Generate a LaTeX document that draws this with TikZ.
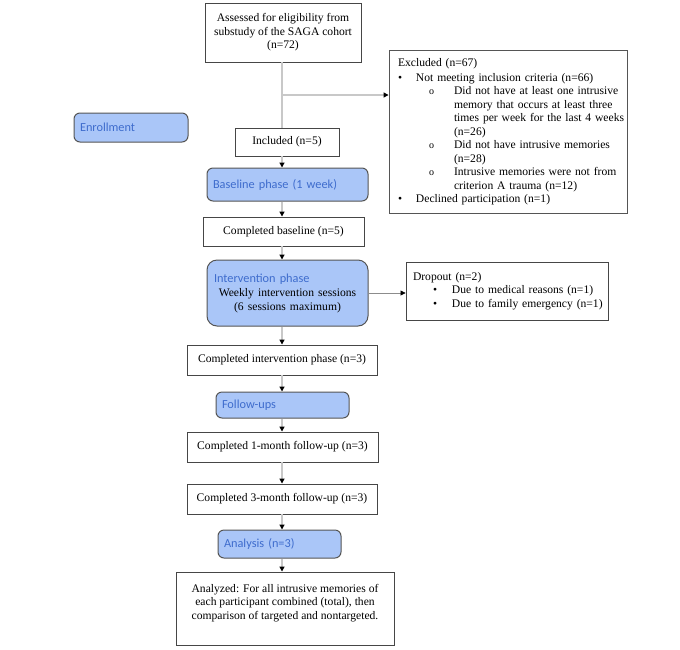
\documentclass[tikz,border=0pt]{standalone}
\usepackage{fontspec}
\setmainfont{Liberation Serif}
\newfontfamily\calibrifont{Carlito}
\usepackage{color}
\usepackage{tikz}
\usetikzlibrary{arrows.meta,backgrounds}

\definecolor{phasefill}{RGB}{170,198,248}
\definecolor{phaseline}{RGB}{85,85,85}
\definecolor{phasetext}{RGB}{62,108,205}
\definecolor{boxline}{RGB}{70,70,70}
\definecolor{flowline}{RGB}{200,200,200}
\definecolor{dropline}{RGB}{140,140,140}

\newcommand{\bodyfont}{\fontsize{11.6}{13.5}\selectfont}
\newcommand{\phasefont}{\calibrifont\fontsize{12.3}{14}\selectfont}
% bullet lines of the Excluded box
\newcommand{\bulA}[1]{\mbox{\makebox[18pt][l]{\textbullet}#1}}
\newcommand{\bulB}[1]{\mbox{\hspace*{31pt}\makebox[25pt][l]{\fontsize{10}{10}\selectfont o}#1}}
\newcommand{\bulC}[1]{\mbox{\hspace*{56pt}#1}}

\begin{document}
\begin{tikzpicture}[x=1pt,y=1pt,yscale=-1,
  box/.style={draw=boxline, line width=0.9pt, inner sep=0pt, align=center, font=\bodyfont},
  phasebox/.style={draw=phaseline, fill=phasefill, line width=1pt, rounded corners=6pt,
    inner xsep=6pt, inner ysep=0pt, align=left, text=phasetext, font=\phasefont},
  plainline/.style={draw=flowline, line width=1.5pt},
  flow/.style={plainline, -{Triangle[length=5pt,width=5pt,color=black]}},
  dropflow/.style={draw=dropline, line width=0.7pt, -{Triangle[length=5pt,width=5pt,color=black]}}]
\useasboundingbox[fill=white] (0,0) rectangle (680,649);

%Box: Assessed
\node (assessed) [box, minimum width=156pt, minimum height=59pt] at (283,32.5)
  {Assessed for eligibility from\\substudy of the SAGA cohort\\(n=72)};

%Box: Excluded
\node (excluded) [box, draw=phaseline, minimum height=163pt, text width=220pt, inner xsep=9pt, align=left] at (508,131.5)
  {Excluded (n=67)\\[1.5pt]
   \bulA{Not meeting inclusion criteria (n=66)}\\
   \bulB{Did not have at least one intrusive}\\
   \bulC{memory that occurs at least three}\\
   \bulC{times per week for the last 4 weeks}\\
   \bulC{(n=26)}\\
   \bulB{Did not have intrusive memories}\\
   \bulC{(n=28)}\\
   \bulB{Intrusive memories were not from}\\
   \bulC{criterion A trauma (n=12)}\\
   \bulA{Declined participation (n=1)}};

%Shape: phase labels
\node (enrollment) [phasebox, text width=102pt, minimum height=29pt] at (131,127.5) {Enrollment};

% Text Node
\node (included) [box, minimum width=104pt, minimum height=28pt] at (287,142) {Included (n=5)};

\node (baseline) [phasebox, text width=149pt, minimum height=33pt] at (287.5,184.5) {Baseline phase (1 week)};

\node (compbase) [box, minimum width=161pt, minimum height=29pt] at (283.5,231.5) {Completed baseline (n=5)};

\node (intervention) [phasebox, rounded corners=10pt, text width=147pt, inner xsep=7pt, minimum height=66pt] at (287.5,293)
  {Intervention phase\\
   \makebox[147pt][c]{\rmfamily\bodyfont\textcolor{black}{Weekly intervention sessions}}\\
   \makebox[147pt][c]{\rmfamily\bodyfont\textcolor{black}{(6 sessions maximum)}}};

%Box: Dropout
\node (dropout) [box, text width=188pt, inner xsep=7pt, minimum height=58pt, align=left] at (507,291)
  {Dropout (n=2)\\
   \mbox{\hspace*{20pt}\makebox[19pt][l]{\textbullet}Due to medical reasons (n=1)}\\
   \mbox{\hspace*{20pt}\makebox[19pt][l]{\textbullet}Due to family emergency (n=1)}};

\node (compint) [box, minimum width=190pt, minimum height=30pt] at (282,360) {Completed intervention phase (n=3)};

\node (followups) [phasebox, text width=121pt, minimum height=26pt] at (282.5,405) {Follow-ups};

\node (comp1) [box, minimum width=191pt, minimum height=30pt] at (282.5,447) {Completed 1-month follow-up (n=3)};

\node (comp3) [box, minimum width=190pt, minimum height=30pt] at (282,499) {Completed 3-month follow-up (n=3)};

\node (analysis) [phasebox, text width=111pt, minimum height=28pt] at (279.5,544) {Analysis (n=3)};

\node (analyzed) [box, minimum width=218pt, minimum height=73pt] at (285,608.5)
  {Analyzed: For all intrusive memories of\\each participant combined (total), then\\comparison of targeted and nontargeted.\\ \mbox{}};

% connectors
\coordinate (spine) at (282,0);
\coordinate (branch) at (282,95);
\draw[plainline] (assessed.south -| spine) -- (included.north -| spine);
\draw[flow] (branch) -- (branch -| excluded.west);
\draw[flow] (included.south -| spine) -- (baseline.north -| spine);
\draw[flow] (baseline.south -| spine) -- (compbase.north -| spine);
\draw[flow] (compbase.south -| spine) -- (intervention.north -| spine);
\draw[dropflow] (intervention.east) -- (intervention.east -| dropout.west);
\draw[flow] (intervention.south -| spine) -- (compint.north -| spine);
\draw[flow] (compint.south -| spine) -- (followups.north -| spine);
\draw[flow] (followups.south -| spine) -- (comp1.north -| spine);
\draw[flow] (comp1.south -| spine) -- (comp3.north -| spine);
\draw[flow] (comp3.south -| spine) -- (analysis.north -| spine);
\draw[flow] (analysis.south -| spine) -- (analyzed.north -| spine);

\end{tikzpicture}
\end{document}
